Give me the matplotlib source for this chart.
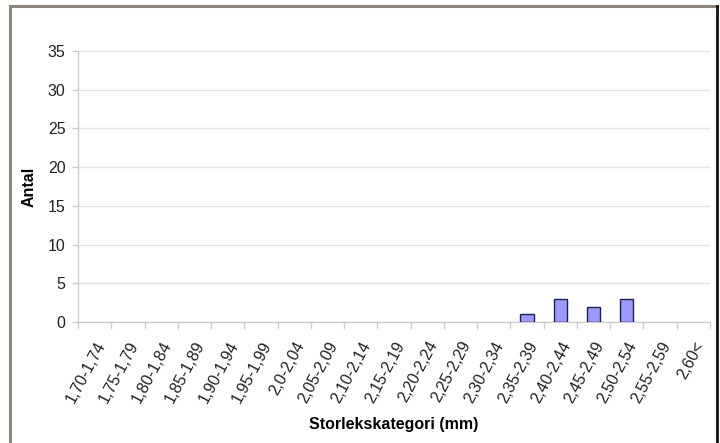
import matplotlib
matplotlib.use("Agg")
import matplotlib.pyplot as plt
import matplotlib.transforms as mtransforms
from matplotlib.lines import Line2D
import numpy as np

plt.rcParams['font.family'] = ['Liberation Sans', 'DejaVu Sans']

# storleksklasser och antal
kategorier = ["1,70-1,74", "1,75-1,79", "1,80-1,84", "1,85-1,89", "1,90-1,94",
              "1,95-1,99", "2,0-2,04", "2,05-2,09", "2,10-2,14", "2,15-2,19",
              "2,20-2,24", "2,25-2,29", "2,30-2,34", "2,35-2,39", "2,40-2,44",
              "2,45-2,49", "2,50-2,54", "2,55-2,59", "2,60<"]
antal = [0, 0, 0, 0, 0, 0, 0, 0, 0, 0, 0, 0, 0, 1, 3, 2, 3, 0, 0]
y_ticks = [0, 5, 10, 15, 20, 25, 30, 35]

fig = plt.figure(figsize=(7.2, 4.43), dpi=100)
W, H = 720, 443

# ram runt diagrammet
fig.add_artist(Line2D([10 / W, 10 / W], [0, 1 - 6 / H], transform=fig.transFigure,
                      color="#8c857b", lw=2.2))
fig.add_artist(Line2D([10 / W, 717 / W], [1 - 6 / H, 1 - 6 / H], transform=fig.transFigure,
                      color="#8c857b", lw=2.2))
fig.add_artist(Line2D([717 / W, 717 / W], [0, 1 - 6 / H], transform=fig.transFigure,
                      color="#111111", lw=2.0))

ax = fig.add_axes([78 / W, 1 - 322 / H, (710 - 78) / W, (322 - 51) / H])

x = np.arange(len(kategorier))
v = np.array(antal)
# tomma klasser ritas inte (annars syns kantlinjen)
m = v > 0
ax.bar(x[m], v[m], width=0.4, color="#9999ff", edgecolor="#1f1f4f", linewidth=1.0, zorder=3)

ax.set_xlim(-0.5, len(kategorier) - 0.5)
ax.set_ylim(0, 35)
ax.set_yticks(y_ticks)
ax.yaxis.grid(True, color="#e4e4e4", linewidth=1.0, zorder=0)

ax.set_xticks(np.arange(len(kategorier) + 1) - 0.5, minor=False)
ax.set_xticklabels([])
ax.set_xticks(x, minor=True)
ax.set_xticklabels(kategorier, minor=True, rotation=62, ha="right",
                   rotation_mode="anchor", fontsize=11.5, color="#222222")
# flytta etiketterna lite åt vänster
dx = mtransforms.ScaledTranslation(-7 / 100, 0, fig.dpi_scale_trans)
for lbl in ax.get_xticklabels(minor=True):
    lbl.set_transform(lbl.get_transform() + dx)
ax.tick_params(axis="x", which="major", length=5, color="#cccccc", width=1)
ax.tick_params(axis="x", which="minor", length=0, pad=12)
ax.tick_params(axis="y", length=4, color="#cccccc", width=1, labelsize=11.5,
               labelcolor="#222222", pad=5)

for s in ["top", "right"]:
    ax.spines[s].set_visible(False)
for s in ["left", "bottom"]:
    ax.spines[s].set_color("#cccccc")
    ax.spines[s].set_linewidth(1)

ax.set_ylabel("Antal", fontsize=11.5, fontweight="bold", labelpad=8)
fig.text((78 + 710) / 2 / W, 1 - 424 / H, "Storlekskategori (mm)",
         ha="center", va="center", fontsize=11.5, fontweight="bold")

fig.savefig("out.png", dpi=100)
